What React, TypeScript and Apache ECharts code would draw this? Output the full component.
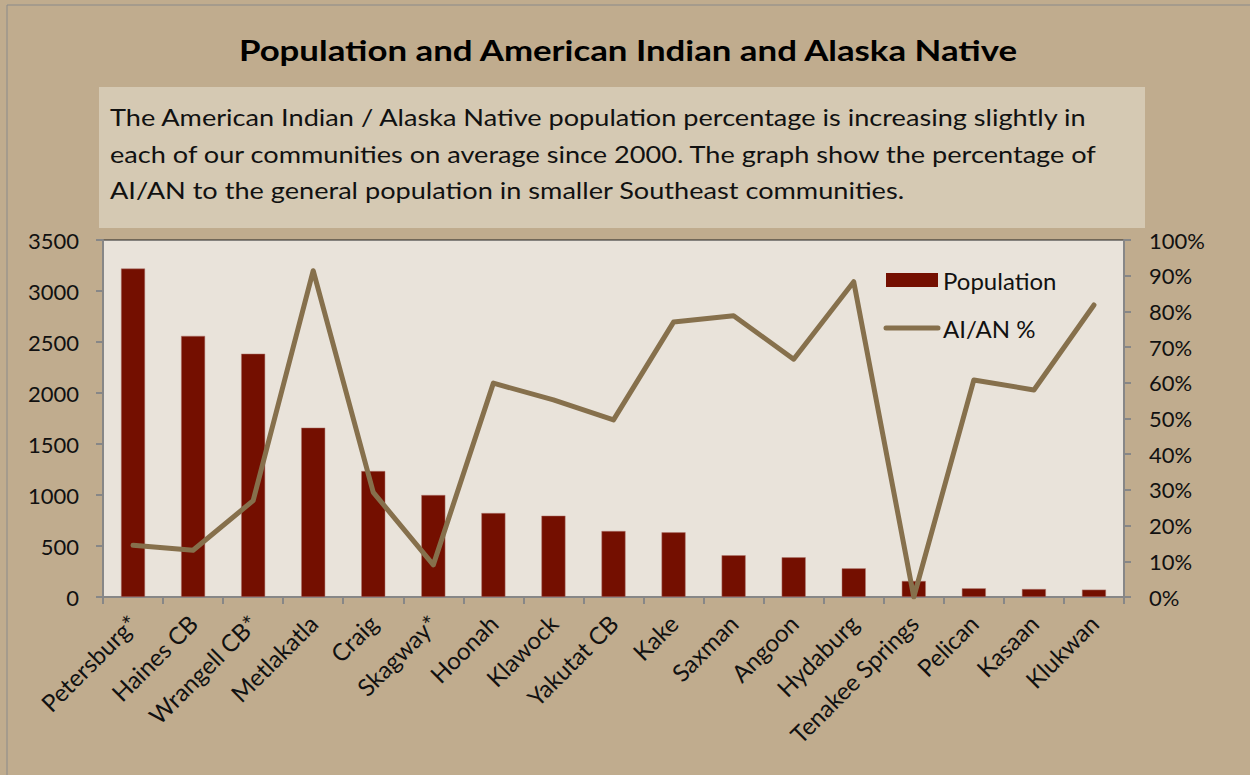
import React, { useEffect, useRef } from "react";
import * as echarts from "echarts";

const categories = [
  "Petersburg*", "Haines CB", "Wrangell CB*", "Metlakatla", "Craig", "Skagway*",
  "Hoonah", "Klawock", "Yakutat CB", "Kake", "Saxman", "Angoon", "Hydaburg",
  "Tenakee Springs", "Pelican", "Kasaan", "Klukwan",
];
const population = [3220, 2560, 2385, 1660, 1235, 1000, 823, 797, 647, 634, 409, 389, 281, 157, 85, 78, 72];
const aianPct = [14.5, 13.1, 27, 91.4, 29.3, 9, 59.9, 55.2, 49.6, 77, 78.8, 66.6, 88.3, 0, 60.8, 58, 81.8];

const titleText = "Population and American Indian and Alaska Native";
const noteLines = [
  "The American Indian / Alaska Native population percentage is increasing slightly in",
  "each of our communities on average since 2000. The graph show the percentage of",
  "AI/AN to the general population in smaller Southeast communities.",
];
const legendNames = ["Population", "AI/AN %"];

const FONT = "Lato";
const BAR_COLOR = "#740f00";
const LINE_COLOR = "#86704c";

export default function App() {
  const ref = useRef<HTMLDivElement>(null);
  useEffect(() => {
    const chart = echarts.init(ref.current!, null, { renderer: "svg" });
    const axisGray = "#878787";
    chart.setOption({
      animation: false,
      backgroundColor: "#c0ac8e",
      textStyle: { fontFamily: FONT },
      graphic: [
        { type: "rect", shape: { x: 7, y: 5, width: 1300, height: 800 }, style: { fill: "none", stroke: "#8a8a8a", lineWidth: 1 }, silent: true },
        { type: "rect", shape: { x: 99, y: 87, width: 1046, height: 141 }, style: { fill: "#d5c9b3" }, silent: true },
        { type: "text", x: 628, y: 50, scaleX: 1.2, style: { text: titleText, fontFamily: FONT, fontWeight: "bold", fontSize: 29, fill: "#000", align: "center", verticalAlign: "middle" } },
        ...noteLines.map((t, i) => ({
          type: "text", x: 110, y: 117 + i * 36.5, scaleX: 1.18,
          style: { text: t, fontFamily: FONT, fontSize: 23, fill: "#111", align: "left", verticalAlign: "middle" },
        })),
        { type: "rect", z: 10, shape: { x: 886, y: 273, width: 52, height: 14 }, style: { fill: BAR_COLOR } },
        { type: "text", z: 10, x: 943, y: 280, style: { text: legendNames[0], fontFamily: FONT, fontSize: 24, fill: "#111", align: "left", verticalAlign: "middle" } },
        { type: "line", z: 10, shape: { x1: 886, y1: 328, x2: 938, y2: 328 }, style: { stroke: LINE_COLOR, lineWidth: 5, lineCap: "round" } },
        { type: "text", z: 10, x: 943, y: 328, style: { text: legendNames[1], fontFamily: FONT, fontSize: 24, fill: "#111", align: "left", verticalAlign: "middle" } },
      ],
      grid: { left: 103, right: 126, top: 240, bottom: 178, show: true, backgroundColor: "#e9e3da", borderColor: "#222", borderWidth: 1 },
      xAxis: {
        type: "category", data: categories,
        axisLine: { lineStyle: { color: axisGray, width: 2 } },
        axisTick: { show: true, length: 7, lineStyle: { color: axisGray, width: 2 } },
        axisLabel: { rotate: 45, interval: 0, fontFamily: FONT, fontSize: 24, color: "#111", margin: 22 },
      },
      yAxis: [
        {
          type: "value", min: 0, max: 3500, interval: 500,
          axisLine: { show: true, lineStyle: { color: axisGray, width: 2 } },
          axisTick: { show: true, length: 7, lineStyle: { color: axisGray, width: 2 } },
          splitLine: { show: false },
          axisLabel: { fontFamily: FONT, fontSize: 22, color: "#111", margin: 24, formatter: (v: number) => String(v) },
        },
        {
          type: "value", min: 0, max: 100, interval: 10, position: "right",
          axisLine: { show: true, lineStyle: { color: axisGray, width: 2 } },
          axisTick: { show: true, length: 7, lineStyle: { color: axisGray, width: 2 } },
          splitLine: { show: false },
          axisLabel: { fontFamily: FONT, fontSize: 22, color: "#111", margin: 25, formatter: "{value}%" },
        },
      ],
      series: [
        {
          name: "Population", type: "bar", data: population, barWidth: 24,
          itemStyle: { color: BAR_COLOR, borderColor: "#b07a70", borderWidth: 0.5 },
        },
        {
          name: "AI/AN %", type: "line", yAxisIndex: 1, data: aianPct,
          symbol: "none", lineStyle: { color: LINE_COLOR, width: 5, cap: "round", join: "round" },
          itemStyle: { color: LINE_COLOR },
        },
      ],
    });
    return () => chart.dispose();
  }, []);
  return <div ref={ref} style={{ position: "fixed", left: 0, top: 0, width: 1250, height: 775 }} />;
}
